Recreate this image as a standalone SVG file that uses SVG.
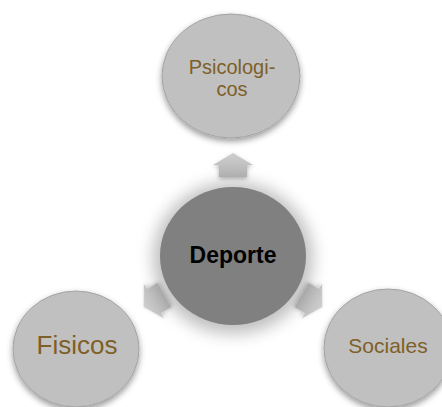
<svg xmlns="http://www.w3.org/2000/svg" width="442" height="407" viewBox="0 0 442 407">
<defs>
<style>
.outer{fill:#c0c0c0;stroke:#a3a3a3;stroke-width:1}
.lbl{font-family:"Liberation Sans",Arial,sans-serif;fill:#7f5f28;text-anchor:middle}
.arrow{fill:url(#ag)}
</style>
<filter id="sh" x="-30%" y="-30%" width="160%" height="160%">
<feDropShadow dx="0" dy="3" stdDeviation="3" flood-color="#000" flood-opacity="0.4"/>
</filter>
<filter id="halo" x="-40%" y="-40%" width="180%" height="180%">
<feGaussianBlur stdDeviation="8"/>
</filter>
<filter id="ash" x="-50%" y="-50%" width="200%" height="200%">
<feDropShadow dx="0" dy="2" stdDeviation="2" flood-color="#000" flood-opacity="0.3"/>
</filter>
<linearGradient id="ag" x1="0" y1="0" x2="0" y2="1">
<stop offset="0" stop-color="#cfcfcf"/>
<stop offset="1" stop-color="#b3b3b3"/>
</linearGradient>
</defs>
<rect width="442" height="407" fill="#fff"/>
<g id="connectors">
<g transform="translate(233,165)"><path class="arrow" filter="url(#ash)" d="M0,-12 L20,0 L14,0 L14,12 L-14,12 L-14,0 L-20,0 Z"/></g>
<g transform="translate(154,301) rotate(-120)"><path class="arrow" filter="url(#ash)" d="M0,-12 L20,0 L14,0 L14,12 L-14,12 L-14,0 L-20,0 Z"/></g>
<g transform="translate(312,301) rotate(120)"><path class="arrow" filter="url(#ash)" d="M0,-12 L20,0 L14,0 L14,12 L-14,12 L-14,0 L-20,0 Z"/></g>
</g>
<g id="node-psicologicos">
<ellipse class="outer" filter="url(#sh)" cx="231" cy="76" rx="69" ry="62"/>
<text class="lbl" font-size="20" x="232" y="74">Psicologi-</text>
<text class="lbl" font-size="20" x="232" y="96">cos</text>
</g>
<g id="node-fisicos">
<ellipse class="outer" filter="url(#sh)" cx="76" cy="349" rx="63" ry="58"/>
<text class="lbl" font-size="26" x="77" y="354">Fisicos</text>
</g>
<g id="node-sociales">
<ellipse class="outer" filter="url(#sh)" cx="388" cy="348" rx="64" ry="59"/>
<text class="lbl" font-size="21" x="388" y="353">Sociales</text>
</g>
<g id="node-deporte">
<ellipse cx="233" cy="258" rx="80" ry="76" fill="#8a8a8a" opacity="0.55" filter="url(#halo)"/>
<ellipse cx="233" cy="256" rx="73" ry="69" fill="#808080"/>
<text x="233" y="263" font-family="Liberation Sans,Arial,sans-serif" font-weight="bold" font-size="23" fill="#000" text-anchor="middle">Deporte</text>
</g>
</svg>
